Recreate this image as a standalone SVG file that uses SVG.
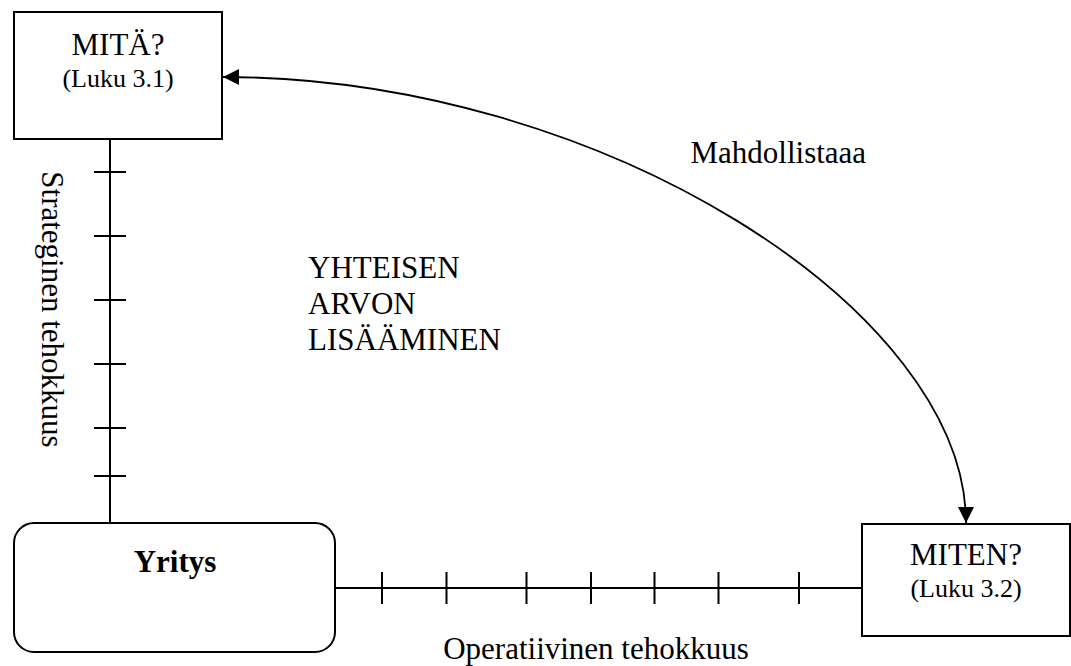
<svg xmlns="http://www.w3.org/2000/svg" width="1071" height="666" viewBox="0 0 1071 666">
  <style>
    .box { fill: #ffffff; stroke: #000000; stroke-width: 2; }
    .axis { fill: none; stroke: #000000; stroke-width: 2; }
    .curve { fill: none; stroke: #000000; stroke-width: 1.8; }
    .t { font-family: "Liberation Serif", "Times New Roman", serif; fill: #000000; }
    .big { font-size: 31px; }
    .small { font-size: 26px; }
    .mid { text-anchor: middle; }
    .bold { font-weight: bold; }
  </style>
  <defs>
    <marker id="arrow" viewBox="0 0 16 16" refX="16" refY="8" markerWidth="16" markerHeight="16" markerUnits="userSpaceOnUse" orient="auto-start-reverse">
      <path d="M0,0 L16,8 L0,16 Z" fill="#000000"/>
    </marker>
  </defs>

  <!-- connectors: axes with tick marks and the curved two-way arrow -->
  <g id="connectors">
    <!-- vertical axis: strategic efficiency -->
    <line class="axis" x1="110" y1="139" x2="110" y2="523"/>
    <g class="axis">
      <line x1="94" y1="172" x2="126" y2="172"/>
      <line x1="94" y1="236" x2="126" y2="236"/>
      <line x1="94" y1="300" x2="126" y2="300"/>
      <line x1="94" y1="364" x2="126" y2="364"/>
      <line x1="94" y1="428" x2="126" y2="428"/>
      <line x1="94" y1="476" x2="126" y2="476"/>
    </g>
    <!-- horizontal axis: operational efficiency -->
    <line class="axis" x1="335" y1="588" x2="862" y2="588"/>
    <g class="axis">
      <line x1="382" y1="572" x2="382" y2="604"/>
      <line x1="446.5" y1="572" x2="446.5" y2="604"/>
      <line x1="526.5" y1="572" x2="526.5" y2="604"/>
      <line x1="591" y1="572" x2="591" y2="604"/>
      <line x1="654.5" y1="572" x2="654.5" y2="604"/>
      <line x1="718.5" y1="572" x2="718.5" y2="604"/>
      <line x1="799" y1="572" x2="799" y2="604"/>
    </g>
    <!-- enabling link between WHAT and HOW -->
    <path class="curve" d="M223,77 C600,77 966,310 966,523" marker-start="url(#arrow)" marker-end="url(#arrow)"/>
  </g>

  <!-- axis and area labels -->
  <text class="t big mid" transform="translate(42,309.5) rotate(90)">Strateginen tehokkuus</text>
  <text class="t big mid" x="596" y="659">Operatiivinen tehokkuus</text>
  <text class="t big" x="690.5" y="162.5">Mahdollistaaa</text>
  <text class="t big" x="308" y="278">YHTEISEN</text>
  <text class="t big" x="308" y="314">ARVON</text>
  <text class="t big" x="308" y="350">LISÄÄMINEN</text>

  <g id="node-mita">
    <rect class="box" x="14" y="12" width="208" height="127"/>
    <text class="t big mid" x="118" y="55">MITÄ?</text>
    <text class="t small mid" x="118" y="87">(Luku 3.1)</text>
  </g>

  <g id="node-yritys">
    <rect class="box" x="14" y="523" width="321" height="129" rx="20" ry="20"/>
    <text class="t big mid bold" x="175" y="572">Yritys</text>
  </g>

  <g id="node-miten">
    <rect class="box" x="862" y="524" width="208" height="112"/>
    <text class="t big mid" x="966" y="565">MITEN?</text>
    <text class="t small mid" x="966" y="597">(Luku 3.2)</text>
  </g>
</svg>
